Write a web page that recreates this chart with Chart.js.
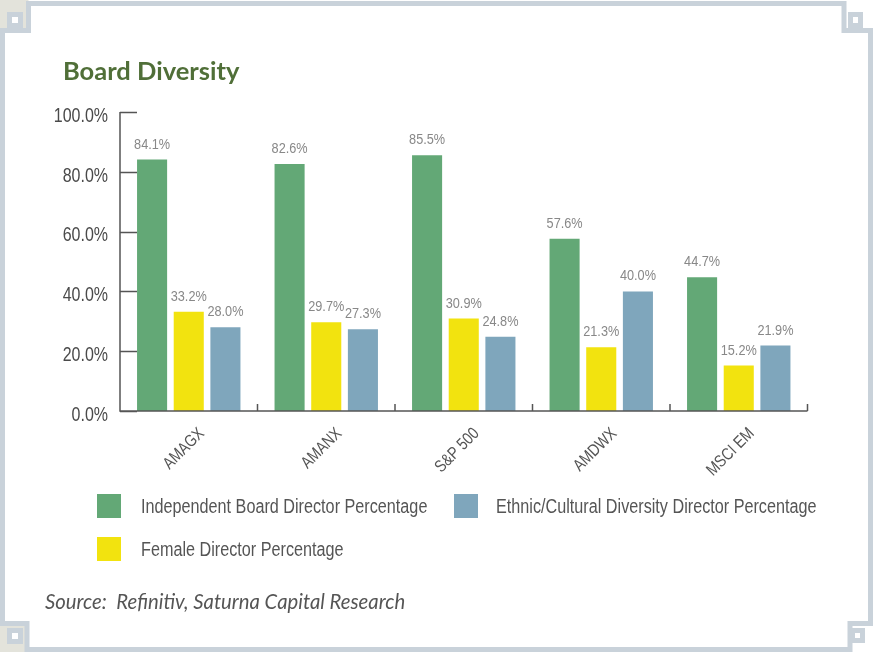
<!DOCTYPE html>
<html>
<head>
<meta charset="utf-8">
<script src="https://cdn.jsdelivr.net/npm/chart.js@4/dist/chart.umd.min.js"></script>
<style>
  html, body { margin: 0; padding: 0; background: #fff; }
  #wrap { position: relative; width: 873px; height: 652px; overflow: hidden; }
  #frame, #chart { position: absolute; left: 0; top: 0; }
  .title { position: absolute; left: 63px; top: 55px; font: 700 25.5px Lato, sans-serif; color: #506f38; line-height: 30px; }
  .legend { position: absolute; font: 20px "Liberation Sans", Arial, sans-serif; color: #555; line-height: 24px; white-space: nowrap; }
  .legend span.box { position: absolute; left: 0; top: 0; width: 24px; height: 24px; }
  .legend span.txt { position: absolute; top: 0; transform: scaleX(0.81); transform-origin: 0 50%; }
  .source { position: absolute; left: 45px; top: 589px; font: italic 20.3px Lato, sans-serif; color: #555; white-space: pre; }
</style>
</head>
<body>
<div id="wrap">
  <svg id="frame" width="873" height="652">
    <rect x="0" y="0" width="28.5" height="30.5" fill="#e3e3db"/>
    <rect x="0" y="623" width="27" height="29" fill="#e3e3db"/>
    <path d="M2.5 30.5 H28.5 V3.5 H844 V30.5 H870.5 V623.5 H850 V649.5 H27 V623.5 H2.5 Z"
          fill="none" stroke="#c9d2da" stroke-width="5"/>
    <rect x="9.5" y="14.5" width="11" height="11" fill="#fff" stroke="#c9d2da" stroke-width="5"/>
    <rect x="850.5" y="14.5" width="10" height="11" fill="#fff" stroke="#c9d2da" stroke-width="5"/>
    <rect x="9.5" y="630.5" width="11" height="11" fill="#fff" stroke="#c9d2da" stroke-width="5"/>
    <rect x="852.5" y="630.5" width="10" height="10" fill="#fff" stroke="#c9d2da" stroke-width="5"/>
  </svg>
  <canvas id="chart" width="873" height="652"></canvas>
  <div class="title">Board Diversity</div>
  <div id="legend"></div>
  <div class="source">Source:  Refinitiv, Saturna Capital Research</div>
</div>
<script>
const categories = ["AMAGX", "AMANX", "S&P 500", "AMDWX", "MSCI EM"];
const seriesNames = [
  "Independent Board Director Percentage",
  "Female Director Percentage",
  "Ethnic/Cultural Diversity Director Percentage",
];
const independentPct = [84.1, 82.6, 85.5, 57.6, 44.7];
const femalePct = [33.2, 29.7, 30.9, 21.3, 15.2];
const ethnicPct = [28.0, 27.3, 24.8, 40.0, 21.9];
const yTicks = [0, 20, 40, 60, 80, 100];

const colors = ["#63a876", "#f2e30f", "#7fa6bc"];
const sans = '"Liberation Sans", Arial, sans-serif';
const squeeze = 0.82; // narrow the sans face to a condensed width

function narrowText(ctx, text, x, y, angle) {
  ctx.save();
  ctx.translate(x, y);
  if (angle) ctx.rotate(angle);
  ctx.scale(squeeze, 1);
  ctx.fillText(text, 0, 0);
  ctx.restore();
}

// axis lines, inward ticks, category separators and axis labels
const axisPlugin = {
  id: "axisMarks",
  afterDraw(chart) {
    const ctx = chart.ctx;
    const x = chart.scales.x, y = chart.scales.y;
    ctx.save();
    ctx.strokeStyle = "#555";
    ctx.lineWidth = 1.5;
    ctx.beginPath();
    ctx.moveTo(x.left, y.getPixelForValue(100));
    ctx.lineTo(x.left, y.bottom);
    ctx.lineTo(x.right, y.bottom);
    yTicks.forEach(v => {
      const py = Math.round(y.getPixelForValue(v)) + 0.5;
      ctx.moveTo(x.left, py);
      ctx.lineTo(x.left + 17, py);
    });
    const step = (x.right - x.left) / categories.length;
    for (let i = 1; i <= categories.length; i++) {
      const px = x.left + i * step;
      ctx.moveTo(px, y.bottom);
      ctx.lineTo(px, y.bottom - 7);
    }
    ctx.stroke();

    ctx.fillStyle = "#4a4a4a";
    ctx.font = "19.5px " + sans;
    ctx.textAlign = "right";
    ctx.textBaseline = "middle";
    yTicks.forEach(v => {
      narrowText(ctx, v.toFixed(1) + "%", x.left - 12, y.getPixelForValue(v) + 4.5);
    });

    ctx.fillStyle = "#555";
    ctx.font = "17px " + sans;
    categories.forEach((c, i) => {
      narrowText(ctx, c, x.getPixelForValue(i) + 13, y.bottom + 20, -Math.PI / 4);
    });
    ctx.restore();
  }
};

// value labels above the bars
const valuePlugin = {
  id: "valueLabels",
  afterDatasetsDraw(chart) {
    const ctx = chart.ctx;
    ctx.save();
    ctx.font = "15.5px " + sans;
    ctx.fillStyle = "#888";
    ctx.textAlign = "center";
    ctx.textBaseline = "alphabetic";
    chart.data.datasets.forEach((ds, di) => {
      chart.getDatasetMeta(di).data.forEach((bar, i) => {
        narrowText(ctx, ds.data[i].toFixed(1) + "%", bar.x, bar.y - 11);
      });
    });
    ctx.restore();
  }
};

new Chart(document.getElementById("chart"), {
  type: "bar",
  data: {
    labels: categories,
    datasets: [independentPct, femalePct, ethnicPct].map((d, i) => ({
      label: seriesNames[i],
      data: d,
      backgroundColor: colors[i],
      categoryPercentage: 0.8,
      barPercentage: 0.82,
    })),
  },
  options: {
    responsive: false,
    animation: false,
    layout: { padding: { top: 112, right: 65.5, bottom: 181, left: 0 } },
    plugins: { legend: { display: false }, tooltip: { enabled: false } },
    scales: {
      y: {
        min: 0,
        max: 100,
        afterFit: s => { s.width = 120; },
        border: { display: false },
        grid: { display: false },
        ticks: { display: false },
      },
      x: {
        afterFit: s => { s.height = 60; },
        border: { display: false },
        grid: { display: false },
        ticks: { display: false },
      },
    },
  },
  plugins: [axisPlugin, valuePlugin],
});

// legend: two rows, Independent and Ethnic on the first, Female below
const legendSpots = [[97, 494, 44], [97, 537, 44], [454, 494, 42]];
const legend = document.getElementById("legend");
seriesNames.forEach((name, i) => {
  const [lx, ly, tx] = legendSpots[i];
  const item = document.createElement("div");
  item.className = "legend";
  item.style.left = lx + "px";
  item.style.top = ly + "px";
  item.innerHTML = '<span class="box" style="background:' + colors[i] + '"></span><span class="txt" style="left:' + tx + 'px"></span>';
  item.querySelector(".txt").textContent = name;
  legend.appendChild(item);
});
</script>
</body>
</html>
